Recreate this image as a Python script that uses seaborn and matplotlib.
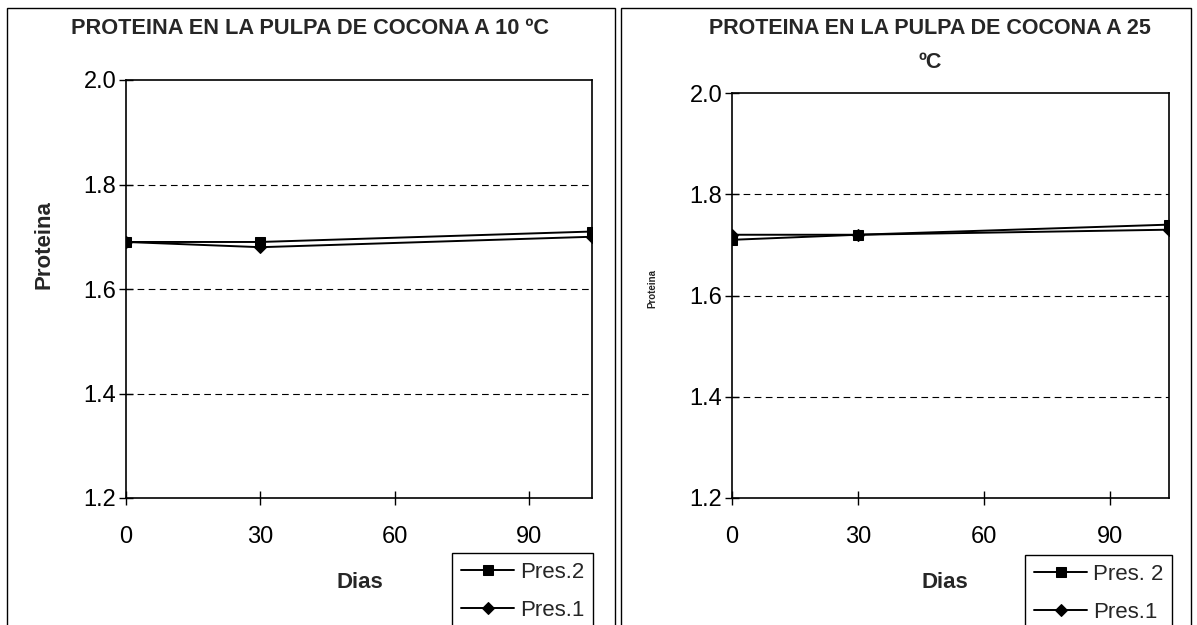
import matplotlib
matplotlib.use("Agg")
import matplotlib.pyplot as plt
from matplotlib.patches import Rectangle
import seaborn as sns
import pandas as pd

# Storage time (days) and protein content for both presentations
dias = [0, 30, 104]
pres2_10 = [1.69, 1.69, 1.71]
pres1_10 = [1.69, 1.68, 1.70]
pres2_25 = [1.71, 1.72, 1.74]
pres1_25 = [1.72, 1.72, 1.73]

titulo_10 = "PROTEINA EN LA PULPA DE COCONA A 10 ºC"
titulo_25a = "PROTEINA EN LA PULPA DE COCONA A 25"
titulo_25b = "ºC"
yticks = [1.2, 1.4, 1.6, 1.8, 2.0]
xticks = [0, 30, 60, 90]

sns.set_theme(style="white")
plt.rcParams["font.family"] = ["Liberation Sans", "DejaVu Sans"]

W, H = 1197, 625
fig = plt.figure(figsize=(W / 100, H / 100), dpi=100)


def px_axes(left, top, right, bottom):
    return fig.add_axes([left / W, 1 - bottom / H, (right - left) / W, (bottom - top) / H])


def frame(left, top, right):
    fig.add_artist(Rectangle((left / W, -0.1), (right - left) / W, 1.1 - top / H,
                             transform=fig.transFigure, fill=False,
                             edgecolor="black", linewidth=1.0))


def panel(ax, p2, p1, lab2, lab1):
    df = pd.DataFrame({"Dias": dias * 2, "Proteina": p2 + p1,
                       "serie": [lab2] * 3 + [lab1] * 3})
    sns.lineplot(data=df[df.serie == lab2], x="Dias", y="Proteina", ax=ax,
                 color="black", marker="s", markersize=7.5, linewidth=1.4,
                 markeredgecolor="black", label=lab2)
    sns.lineplot(data=df[df.serie == lab1], x="Dias", y="Proteina", ax=ax,
                 color="black", marker="D", markersize=6.5, linewidth=1.4,
                 markeredgecolor="black", label=lab1)
    ax.set_xlim(0, 104)
    ax.set_ylim(1.2, 2.0)
    ax.set_xticks(xticks)
    ax.set_yticks(yticks)
    ax.set_yticklabels([f"{v:.1f}" for v in yticks])
    for v in yticks[1:-1]:
        ax.axhline(v, color="black", linestyle=(0, (6, 4)), linewidth=0.8, zorder=0)
    for s in ax.spines.values():
        s.set_color("black")
        s.set_linewidth(1.2)
    ax.tick_params(axis="both", direction="inout", length=10, width=1,
                   colors="black", labelsize=17, left=True, bottom=True)
    ax.tick_params(axis="y", pad=2)
    ax.tick_params(axis="x", pad=15)
    ax.set_xlabel("")
    ax.set_ylabel("")
    ax.get_legend().remove()


legend_kw = dict(loc="upper left", bbox_transform=fig.transFigure, fancybox=False,
                 edgecolor="black", framealpha=1, fontsize=16, handlelength=2.4,
                 handletextpad=0.25, labelspacing=0.75, borderpad=0.4,
                 borderaxespad=0)

# Left panel: 10 ºC
frame(7, 8, 615)
ax1 = px_axes(126, 80, 592, 498)
panel(ax1, pres2_10, pres1_10, "Pres.2", "Pres.1")
fig.text(310 / W, 1 - 28 / H, titulo_10, ha="center", va="center",
         fontsize=15.7, fontweight="bold")
fig.text(360 / W, 1 - 582 / H, "Dias", ha="center", va="center",
         fontsize=16, fontweight="bold")
fig.text(44 / W, 1 - 245 / H, "Proteina", ha="center", va="center",
         rotation=90, fontsize=16, fontweight="bold")
h, l = ax1.get_legend_handles_labels()
fig.legend(h, l, bbox_to_anchor=(452 / W, 1 - 553 / H), **legend_kw)

# Right panel: 25 ºC
frame(621, 8, 1191)
ax2 = px_axes(732, 93, 1169, 498)
panel(ax2, pres2_25, pres1_25, "Pres. 2", "Pres.1")
fig.text(930 / W, 1 - 28 / H, titulo_25a, ha="center", va="center",
         fontsize=15.5, fontweight="bold")
fig.text(930 / W, 1 - 62 / H, titulo_25b, ha="center", va="center",
         fontsize=15.5, fontweight="bold")
fig.text(945 / W, 1 - 582 / H, "Dias", ha="center", va="center",
         fontsize=16, fontweight="bold")
fig.text(652 / W, 1 - 289 / H, "Proteina", ha="center", va="center",
         rotation=90, fontsize=7, fontweight="bold")
h, l = ax2.get_legend_handles_labels()
fig.legend(h, l, bbox_to_anchor=(1025 / W, 1 - 555 / H), **legend_kw)

fig.savefig("out.png", dpi=100, facecolor="white")
